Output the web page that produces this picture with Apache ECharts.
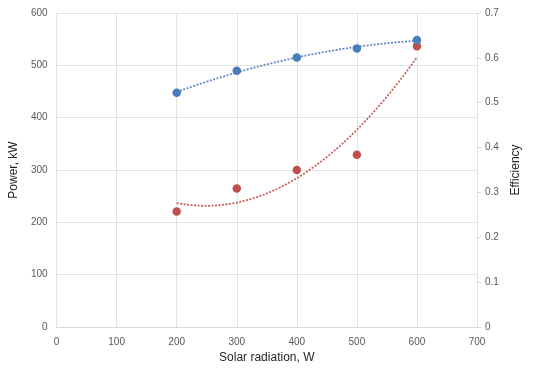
<!DOCTYPE html>
<html><head><meta charset="utf-8">
<script src="https://cdn.jsdelivr.net/npm/echarts@6/dist/echarts.min.js"></script>
<style>html,body{margin:0;padding:0;background:#fff}#c{width:542px;height:373px}</style>
</head><body><div id="c"></div>
<script>
var radiation = [200, 300, 400, 500, 600];
var power = [220.7, 264.8, 300, 329, 536.6];
var efficiency = [0.522, 0.571, 0.601, 0.621, 0.640];
var xTicks = [0, 700, 100];
var leftTicks = [0, 600, 100];
var rightTicks = [0, 0.7, 0.1];

function quadFit(xs, ys) {
  var n = xs.length, S = [0,0,0,0,0], T = [0,0,0];
  for (var i = 0; i < n; i++) {
    var p = 1;
    for (var k = 0; k < 5; k++) { S[k] += p; if (k < 3) T[k] += p * ys[i]; p *= xs[i]; }
  }
  var A = [[S[0],S[1],S[2],T[0]],[S[1],S[2],S[3],T[1]],[S[2],S[3],S[4],T[2]]];
  for (var c = 0; c < 3; c++) {
    for (var r = c + 1; r < 3; r++) {
      var f = A[r][c] / A[c][c];
      for (var j = c; j < 4; j++) A[r][j] -= f * A[c][j];
    }
  }
  var b = [0,0,0];
  for (var r2 = 2; r2 >= 0; r2--) {
    var s = A[r2][3];
    for (var j2 = r2 + 1; j2 < 3; j2++) s -= A[r2][j2] * b[j2];
    b[r2] = s / A[r2][r2];
  }
  return function (x) { return b[0] + b[1] * x + b[2] * x * x; };
}
function trend(xs, ys) {
  var f = quadFit(xs, ys), out = [];
  var x0 = xs[0], x1 = xs[xs.length - 1];
  for (var i = 0; i <= 80; i++) { var x = x0 + (x1 - x0) * i / 80; out.push([x, f(x)]); }
  return out;
}
function pairs(xs, ys) { return xs.map(function (x, i) { return [x, ys[i]]; }); }

var labelStyle = { color: '#595959', fontSize: 10, fontFamily: 'Liberation Sans' };
var chart = echarts.init(document.getElementById('c'));
chart.setOption({
  animation: false,
  grid: { left: 55, right: 65, top: 13, bottom: 46 },
  xAxis: {
    type: 'value', min: xTicks[0], max: xTicks[1], interval: xTicks[2],
    name: 'Solar radiation, W', nameLocation: 'middle', nameGap: 22,
    nameTextStyle: { color: '#262626', fontSize: 12, fontFamily: 'Liberation Sans' },
    axisLine: { show: true, lineStyle: { color: '#d9d9d9' } },
    axisTick: { show: false },
    axisLabel: Object.assign({ margin: 10 }, labelStyle),
    splitLine: { show: true, lineStyle: { color: '#e3e3e3' } }
  },
  yAxis: [{
    type: 'value', min: leftTicks[0], max: leftTicks[1], interval: leftTicks[2],
    name: 'Power, kW', nameLocation: 'middle', nameGap: 31,
    nameTextStyle: { color: '#262626', fontSize: 12, fontFamily: 'Liberation Sans' },
    axisLine: { show: false }, axisTick: { show: false },
    axisLabel: Object.assign({ margin: 9 }, labelStyle),
    splitLine: { show: true, lineStyle: { color: '#e3e3e3' } }
  }, {
    type: 'value', min: rightTicks[0], max: rightTicks[1], interval: rightTicks[2],
    name: 'Efficiency', nameLocation: 'middle', nameGap: 31,
    nameTextStyle: { color: '#262626', fontSize: 12, fontFamily: 'Liberation Sans' },
    axisLine: { show: false },
    axisTick: { show: true, length: 4, lineStyle: { color: '#d9d9d9' } },
    axisLabel: Object.assign({ margin: 8, formatter: function (v) { return String(Math.round(v * 10) / 10); } }, labelStyle),
    splitLine: { show: false }
  }],
  series: [{
    type: 'line', yAxisIndex: 0, data: trend(radiation, power), showSymbol: false, smooth: false,
    lineStyle: { color: '#c0504d', width: 1.8, type: [2, 1.5], opacity: 0.9 }, z: 2
  }, {
    type: 'line', yAxisIndex: 1, data: trend(radiation, efficiency), showSymbol: false, smooth: false,
    lineStyle: { color: '#4f81bd', width: 1.8, type: [2, 1.5], opacity: 0.9 }, z: 2
  }, {
    type: 'scatter', yAxisIndex: 0, data: pairs(radiation, power), symbolSize: 8.5,
    itemStyle: { color: '#c0504d', opacity: 1 }, z: 3
  }, {
    type: 'scatter', yAxisIndex: 1, data: pairs(radiation, efficiency), symbolSize: 8.5,
    itemStyle: { color: '#4a7ebb', opacity: 1 }, z: 4
  }]
});
</script></body></html>
